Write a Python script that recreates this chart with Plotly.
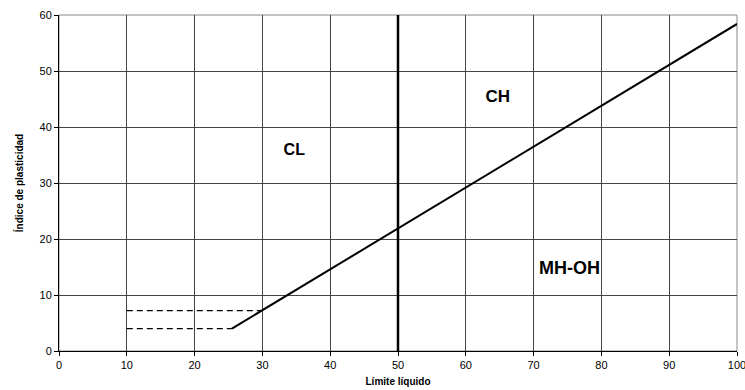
import plotly.graph_objects as go

# A-line (Casagrande) points
aline_x = [25.5, 100]
aline_y = [4.0, 58.4]
# vertical LL = 50
vline_x = [50, 50]
vline_y = [0, 60]
# dashed lines
dash1_x = [10, 30]
dash1_y = [7.2, 7.2]
dash2_x = [10, 25.5]
dash2_y = [4.0, 4.0]
# zone labels
labels = ["CL", "CH", "MH-OH"]
label_x = [34.7, 64.7, 75.3]
label_y = [35.7, 45.3, 14.6]
label_sizes = [16, 17, 18]

fig = go.Figure()
fig.add_trace(go.Scatter(x=aline_x, y=aline_y, mode="lines",
                         line=dict(color="black", width=2), showlegend=False))
fig.add_trace(go.Scatter(x=vline_x, y=vline_y, mode="lines",
                         line=dict(color="black", width=2.5), showlegend=False))
fig.add_trace(go.Scatter(x=dash1_x, y=dash1_y, mode="lines",
                         line=dict(color="black", width=1.3, dash="6px,4px"), showlegend=False))
fig.add_trace(go.Scatter(x=dash2_x, y=dash2_y, mode="lines",
                         line=dict(color="black", width=1.3, dash="6px,4px"), showlegend=False))
fig.add_trace(go.Scatter(x=label_x, y=label_y, mode="text", text=labels,
                         textfont=dict(family="Liberation Sans", size=label_sizes,
                                       color="black", weight="bold"),
                         showlegend=False))

fig.update_layout(
    width=745, height=390,
    margin=dict(l=59, r=8, t=15, b=39),
    paper_bgcolor="white", plot_bgcolor="white",
    font=dict(family="Liberation Sans", size=11, color="black"),
)
fig.update_xaxes(range=[0, 100], dtick=10, showgrid=True, gridcolor="#444", gridwidth=1,
                 showline=True, linecolor="black", linewidth=1, mirror=False,
                 ticks="outside", ticklen=4, tickcolor="black", zeroline=False,
                 ticklabeloverflow="allow", automargin=False,
                 title=dict(text="<b>Límite líquido</b>", font=dict(size=10), standoff=7),
                 fixedrange=True)
fig.update_yaxes(range=[0, 60], dtick=10, showgrid=True, gridcolor="#444", gridwidth=1,
                 showline=True, linecolor="black", linewidth=1,
                 ticks="outside", ticklen=4, tickcolor="black", zeroline=False,
                 automargin=False,
                 title=dict(text="<b>Índice de plasticidad</b>", font=dict(size=10), standoff=14),
                 fixedrange=True)
fig.add_shape(type="rect", xref="paper", yref="paper", x0=0, y0=0, x1=1, y1=1,
              line=dict(color="#888", width=1), layer="below")
fig.write_html("out.html")
